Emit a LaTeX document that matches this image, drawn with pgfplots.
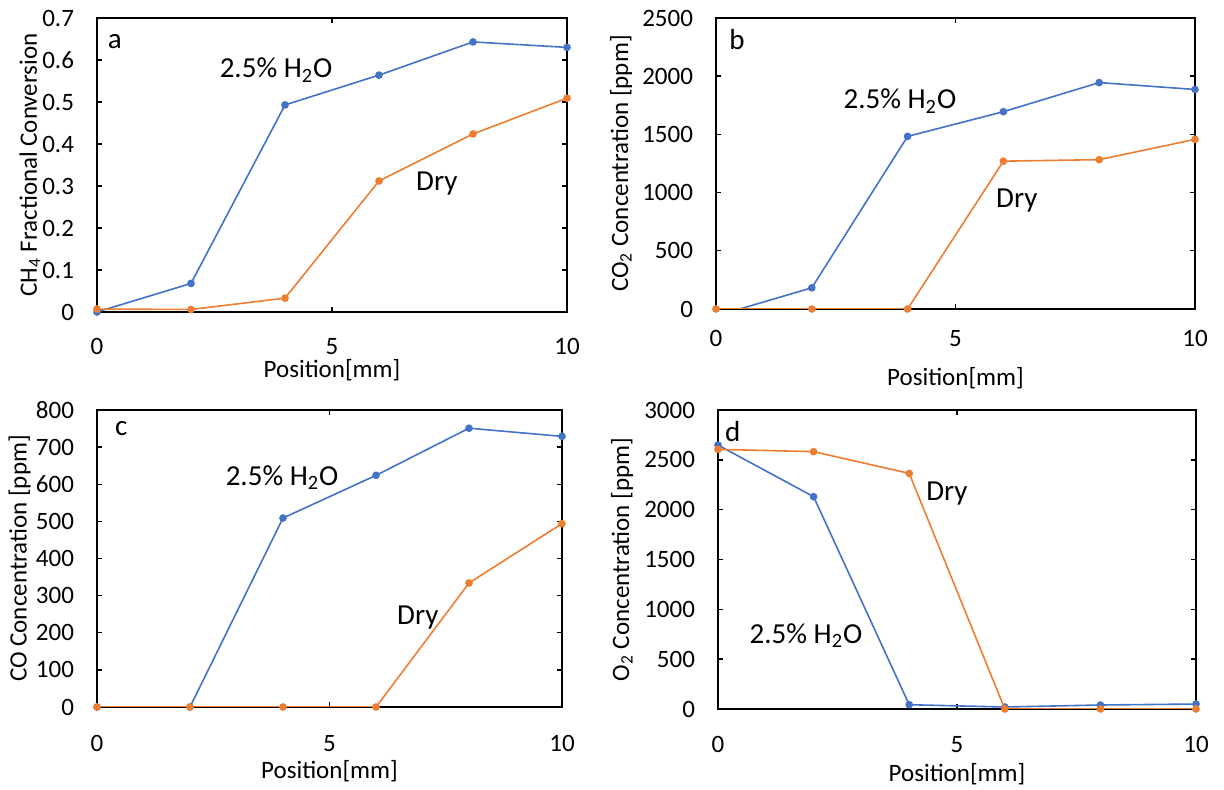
\documentclass[border=0pt]{standalone}
\usepackage{fontspec}
\setmainfont{Carlito}
\usepackage{pgfplots}
\pgfplotsset{compat=1.18}
\definecolor{xblue}{HTML}{4472C4}
\definecolor{xorange}{HTML}{ED7D31}
\newcommand{\tfont}{\fontsize{12.5bp}{15bp}\selectfont}
\newcommand{\afont}{\fontsize{14.5bp}{17bp}\selectfont}
\pgfplotsset{
  panel/.style={
    scale only axis,
    axis line style={black, line width=0.7bp},
    xmin=0, xmax=10, xtick={0,5,10},
    tick align=inside, major tick length=2.5bp,
    tick style={black, line width=0.7bp},
    ticklabel style={font=\tfont},
    /pgf/number format/assume math mode=true,
    /pgf/number format/1000 sep={},
    scaled ticks=false,
    label style={font=\tfont},
    xlabel={Position[mm]},
    clip mode=individual,
    yticklabel style={xshift=-8bp},
  },
  blueline/.style={color=xblue, line width=0.8bp, mark=*, mark size=1.5bp, mark options={solid}},
  orangeline/.style={color=xorange, line width=0.8bp, mark=*, mark size=1.5bp, mark options={solid}},
}
\begin{document}
\begin{tikzpicture}
\path[use as bounding box] (0,0) rectangle (612bp,395bp);

% ---- panel a ----
\begin{axis}[panel, at={(48.5bp,239bp)}, anchor=south west,
  width=235bp, height=147bp,
  ymin=0, ymax=0.7, ytick={0,0.1,...,0.7},
  xticklabel style={yshift=-9.5bp},
  xlabel style={at={([yshift=-29bp]axis description cs:0.5,0)}, anchor=center},
  ylabel style={at={([xshift=-33.5bp]axis description cs:0,0.5)}, anchor=center},
  ylabel={CH\textsubscript{4} Fractional Conversion}]
\addplot[blueline] coordinates {(0,0) (2,0.068) (4,0.493) (6,0.564) (8,0.643) (10,0.630)};
\addplot[orangeline] coordinates {(0,0.007) (2,0.006) (4,0.033) (6,0.312) (8,0.424) (10,0.509)};
\node[font=\afont] at (axis cs:0.38,0.643) {a};
\node[font=\afont] at (axis cs:3.81,0.576) {2.5\% H\textsubscript{2}O};
\node[font=\afont] at (axis cs:7.23,0.307) {Dry};
\end{axis}

% ---- panel b ----
\begin{axis}[panel, at={(358bp,240.5bp)}, anchor=south west,
  width=239.5bp, height=145.5bp,
  ymin=0, ymax=2500, ytick={0,500,...,2500},
  xticklabel style={yshift=-7bp},
  xlabel style={at={([yshift=-34.5bp]axis description cs:0.5,0)}, anchor=center},
  ylabel style={at={([xshift=-47.5bp]axis description cs:0,0.5)}, anchor=center},
  ylabel={CO\textsubscript{2} Concentration [ppm]}]
\addplot[blueline, no markers] coordinates {(0,-60) (2,182) (4,1483) (6,1695) (8,1945) (10,1886)};
\addplot[blueline, only marks] coordinates {(2,182) (4,1483) (6,1695) (8,1945) (10,1886)};
\addplot[orangeline] coordinates {(0,0) (2,0) (4,0) (6,1270) (8,1283) (10,1457)};
\node[font=\afont] at (axis cs:0.44,2311) {b};
\node[font=\afont] at (axis cs:3.84,1787) {2.5\% H\textsubscript{2}O};
\node[font=\afont] at (axis cs:6.28,936) {Dry};
\end{axis}

% ---- panel c ----
\begin{axis}[panel, at={(48.5bp,41.5bp)}, anchor=south west,
  width=232.5bp, height=148.5bp,
  ymin=0, ymax=800, ytick={0,100,...,800},
  xticklabel style={yshift=-10.5bp},
  xlabel style={at={([yshift=-32bp]axis description cs:0.5,0)}, anchor=center},
  ylabel style={at={([xshift=-38.75bp]axis description cs:0,0.5)}, anchor=center},
  ylabel={CO Concentration [ppm]}]
\addplot[blueline] coordinates {(0,0) (2,0) (4,509) (6,624) (8,751) (10,729)};
\addplot[orangeline] coordinates {(0,0) (2,0) (4,0) (6,0) (8,334) (10,494)};
\node[font=\afont] at (axis cs:0.52,751) {c};
\node[font=\afont] at (axis cs:3.98,617) {2.5\% H\textsubscript{2}O};
\node[font=\afont] at (axis cs:6.9,242) {Dry};
\end{axis}

% ---- panel d ----
\begin{axis}[panel, at={(359bp,40.5bp)}, anchor=south west,
  width=239bp, height=149.5bp,
  ymin=0, ymax=3000, ytick={0,500,...,3000},
  xticklabel style={yshift=-10bp},
  xlabel style={at={([yshift=-32.5bp]axis description cs:0.5,0)}, anchor=center},
  ylabel style={at={([xshift=-48bp]axis description cs:0,0.5)}, anchor=center},
  ylabel={O\textsubscript{2} Concentration [ppm]}]
\addplot[blueline] coordinates {(0,2648) (2,2130) (4,43) (6,20) (8,40) (10,50)};
\addplot[orangeline] coordinates {(0,2605) (2,2582) (4,2364) (6,0) (8,0) (10,0)};
\node[font=\afont] at (axis cs:0.31,2784) {d};
\node[font=\afont] at (axis cs:1.84,734) {2.5\% H\textsubscript{2}O};
\node[font=\afont] at (axis cs:4.79,2161) {Dry};
\end{axis}
\end{tikzpicture}
\end{document}
